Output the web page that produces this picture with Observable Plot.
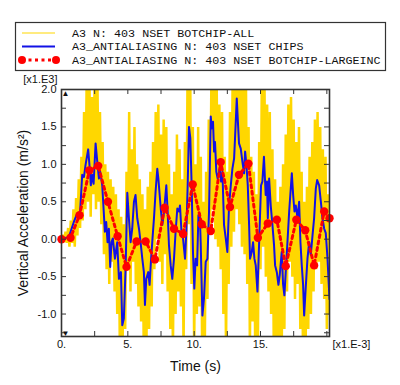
<!DOCTYPE html>
<html><head><meta charset="utf-8">
<script src="https://cdn.jsdelivr.net/npm/d3@7"></script>
<script src="https://cdn.jsdelivr.net/npm/@observablehq/plot@0.6"></script>
<style>
body{margin:0;background:#fff;}
#wrap{width:400px;height:385px;overflow:hidden;}
#legend{width:400px;height:72px;}
#chart svg{display:block;}
</style></head><body>
<div id="wrap"><div id="legend"></div><div id="chart"></div></div>
<script>
// ---- series labels
const seriesNames = [
  "A3 N: 403 NSET BOTCHIP-ALL",
  "A3_ANTIALIASING N: 403 NSET CHIPS",
  "A3_ANTIALIASING N: 403 NSET BOTCHIP-LARGEINC"
];
const seriesColors = ["#ffd700", "#1212e6", "#ff0000"];

// ---- yellow raw signal (sampled every 0.1 ms), values x1000 m/s^2
const yellowStep = 0.1;
const yellowV = [
  0, 0.06, -0.04, 0.1, -0.05, 0.15, -0.1, 0.25, -0.05, 0.4,
  -0.1, 0.55, 0.05, 0.8, 0.15, 1.1, 0.25, 1.7, 0.4, 2.2,
  0.5, 2.3, 0.3, 1.9, 0.6, 2.2, 0.4, 2.3, 0.5, 1.7,
  0.2, 1.3, -0.2, 1.0, -0.4, 0.9, -0.6, 0.8, -0.3, 0.7,
  -0.7, 0.6, -1.0, 0.4, -1.5, 0.3, -1.5, 0.2, -1.2, 0.9,
  -0.4, 1.7, -0.7, 1.2, -0.3, 1.5, -0.6, 1.0, -0.9, 0.8,
  -1.1, 0.6, -1.5, 0.4, -1.5, 0.7, -1.2, 0.9, -0.9, 1.3,
  -0.4, 1.7, 0.0, 1.8, -0.3, 1.4, -0.6, 1.6, -0.2, 1.5,
  -0.7, 1.0, -1.2, 0.6, -1.5, 0.9, -1.0, 1.4, -0.7, 1.2,
  -0.9, 0.8, -1.5, 1.3, -0.4, 2.2, 0.2, 2.3, -0.6, 1.5,
  -1.5, 1.0, -1.0, 1.5, -0.9, 1.1, -1.5, 0.5, -1.5, 0.9,
  -0.8, 1.6, 0.1, 2.2, 0.4, 2.3, 0.0, 2.0, -0.1, 1.8,
  -0.4, 1.7, -1.0, 1.1, -1.5, 0.9, -0.6, 1.7, -0.1, 2.2,
  0.1, 2.3, 0.4, 2.3, 0.2, 2.2, -0.1, 2.1, -0.2, 2.2,
  -0.6, 1.5, -1.5, 1.1, -1.1, 0.9, -1.5, 0.6, -1.5, 1.3,
  -0.4, 2.2, -0.1, 2.1, -0.5, 1.8, -0.7, 1.7, -1.0, 1.2,
  -1.5, 0.8, -1.4, 0.5, -1.5, 0.7, -1.5, 1.0, -1.2, 1.4,
  -0.7, 1.8, -0.3, 1.9, -0.5, 1.6, -0.8, 1.3, -0.6, 1.5,
  -1.2, 0.9, -1.5, 0.5, -1.5, 0.7, -1.2, 1.1, -1.0, 1.3,
  -0.7, 1.6, -0.4, 1.7, -0.3, 1.5, -0.6, 1.2, -0.8, 1.1,
  -1.2, 0.6, -1.0
];

// ---- blue antialiased CHIPS series
const blueT = [0,0.55,0.93,1.18,1.4,1.56,1.69,1.81,2.01,2.14,2.21,2.31,2.42,2.57,2.72,2.82,2.92,3.07,3.17,3.27,3.37,3.47,3.57,3.67,3.77,3.87,4.03,4.2,4.33,4.48,4.58,4.7,4.83,4.96,5.08,5.21,5.33,5.46,5.58,5.71,5.84,5.96,6.09,6.21,6.29,6.39,6.54,6.64,6.74,6.84,6.97,7.09,7.22,7.3,7.4,7.5,7.6,7.73,7.9,8.0,8.1,8.23,8.35,8.48,8.6,8.73,8.86,8.93,9.06,9.16,9.31,9.41,9.51,9.61,9.71,9.81,9.91,10.01,10.11,10.22,10.32,10.42,10.49,10.62,10.74,10.87,11.0,11.12,11.25,11.32,11.42,11.5,11.57,11.67,11.77,11.93,12.03,12.13,12.25,12.38,12.5,12.63,12.76,12.88,13.01,13.08,13.21,13.31,13.38,13.51,13.64,13.76,13.84,13.94,14.04,14.14,14.21,14.34,14.44,14.54,14.64,14.77,14.84,14.94,15.04,15.14,15.26,15.39,15.49,15.55,15.65,15.77,15.9,16.02,16.1,16.23,16.35,16.45,16.6,16.7,16.8,16.96,17.16,17.36,17.46,17.56,17.66,17.79,17.91,18.01,18.11,18.21,18.29,18.42,18.54,18.67,18.79,18.92,19.04,19.17,19.27,19.42,19.55,19.67,19.8,19.92,20.05,20.2];
const blueV = [0,0.03,0.23,0.34,0.36,0.86,0.83,0.99,1.2,0.92,0.72,0.86,0.74,1.28,0.99,0.81,0.9,0.72,0.41,0.1,0.23,-0.04,0.14,-0.37,-0.04,0.01,-0.26,-0.04,-0.53,-0.44,-1.15,-1.06,-0.39,0.62,0.28,-0.04,0.14,0.5,0.59,0.28,0.14,-0.04,-0.26,-0.44,-0.88,-0.53,-0.44,-0.61,-0.3,-0.04,0.28,0.63,0.94,0.81,0.59,0.37,0.19,0.37,0.72,0.37,-0.08,-0.35,-0.53,-0.26,0.1,0.41,0.37,0.45,0.05,0.01,-0.26,0.1,0.72,1.5,1.35,0.72,-0.17,-0.66,-0.26,-0.35,0.32,0.34,-0.04,-1.02,-0.79,-0.3,-0.26,0.37,1.64,1.48,1.57,1.17,1.3,0.9,0.81,0.94,0.77,0.9,0.19,0.01,-0.17,0.45,0.72,0.94,1.08,1.35,1.88,1.52,1.28,1.21,1.03,0.88,1.17,0.99,0.72,0.19,-0.26,-0.17,-0.04,-0.26,-0.35,-0.7,-0.35,0.19,0.72,0.77,1.1,0.59,0.77,0.28,0.81,0.45,0.19,-0.08,-0.35,-0.44,-0.61,-0.48,-0.17,-0.6,-0.75,-0.26,0.37,0.88,0.59,0.37,0.45,0.28,0.5,-0.04,-0.35,-0.61,-1.02,-0.61,-0.26,-0.04,-0.21,0.05,0.28,0.68,0.79,0.72,0.5,0.28,0.14,0.08,-0.26,-0.8];

// ---- red antialiased BOTCHIP-LARGEINC series (large increments)
const redT = [0,0.68,1.36,2.1,2.77,3.5,4.23,4.9,5.66,6.34,7.04,7.77,8.48,9.16,9.89,10.57,11.25,12.0,12.7,13.38,14.09,14.8,15.55,16.23,16.9,17.7,18.37,19.04,19.8,20.2];
const redV = [0,0.02,0.32,0.92,0.98,0.5,0.04,-0.37,-0.03,-0.03,-0.27,0.42,0.14,0.07,0.73,0.2,0.11,1.03,0.43,0.86,1.01,0.02,0.21,0.26,-0.36,0.26,0.12,-0.35,0.37,0.28];

// ---- axes
const xDomain = [0, 20.2];
const yDomain = [-1.3, 2.0];
const xTickVals = [0, 2.5, 5, 7.5, 10, 12.5, 15, 17.5, 20];
const xLabelVals = [0, 5, 10, 15];
const xLabelText = ["0.", "5.", "10.", "15."];
const yTickVals = [-1.25,-1,-0.75,-0.5,-0.25,0,0.25,0.5,0.75,1,1.25,1.5,1.75,2];
const yLabelVals = [-1, -0.5, 0, 0.5, 1, 1.5, 2];
const yLabelText = ["-1.0", "-0.5", "0.0", "0.5", "1.0", "1.5", "2.0"];
const xTitle = "Time (s)";
const yTitle = "Vertical Acceleration (m/s²)";
const xExp = "[x1.E-3]";
const yExp = "[x1.E3]";

// ---- legend
(function(){
  const svg = d3.select("#legend").append("svg").attr("width", 400).attr("height", 72);
  svg.append("rect").attr("x", 15.5).attr("y", 22.5).attr("width", 370).attr("height", 48)
    .attr("fill", "#fff").attr("stroke", "#333").attr("stroke-width", 1.2);
  const rows = [33, 46.5, 60];
  svg.append("line").attr("x1", 22).attr("x2", 55).attr("y1", rows[0]).attr("y2", rows[0])
    .attr("stroke", seriesColors[0]).attr("stroke-width", 1.2);
  svg.append("line").attr("x1", 22).attr("x2", 55).attr("y1", rows[1]).attr("y2", rows[1])
    .attr("stroke", seriesColors[1]).attr("stroke-width", 2);
  svg.append("line").attr("x1", 22).attr("x2", 56).attr("y1", rows[2]).attr("y2", rows[2])
    .attr("stroke", seriesColors[2]).attr("stroke-width", 3).attr("stroke-dasharray", "3,3.5");
  [22, 56].forEach(x => svg.append("circle").attr("cx", x).attr("cy", rows[2]).attr("r", 4).attr("fill", seriesColors[2]));
  seriesNames.forEach((s, i) => svg.append("text").attr("x", 72).attr("y", rows[i] + 3.5)
    .attr("font-family", "Liberation Mono, DejaVu Sans Mono, monospace").attr("font-size", 11.7)
    .attr("fill", "#111").text(s));
})();

// ---- chart
const W = 400, H = 313, mL = 61, mR = 71, mT = 17, mB = 49;
const innerW = W - mL - mR, innerH = H - mT - mB;
const yellowData = yellowV.map((v, i) => ({t: i * yellowStep, v}));
const blueData = blueT.map((t, i) => ({t, v: blueV[i]}));
const redData = redT.map((t, i) => ({t, v: redV[i]}));
const axisColor = "#333";

const chart = Plot.plot({
  width: W, height: H,
  marginLeft: mL, marginRight: mR, marginTop: mT, marginBottom: mB,
  style: {fontFamily: "Liberation Sans, Arial, sans-serif", fontSize: "11px", background: "#fff", color: "#111"},
  x: {domain: xDomain},
  y: {domain: yDomain},
  marks: [
    Plot.line(yellowData, {x: "t", y: "v", stroke: seriesColors[0], strokeWidth: 2.5, strokeLinejoin: "miter", clip: true}),
    Plot.line(blueData, {x: "t", y: "v", stroke: seriesColors[1], strokeWidth: 2, clip: true}),
    Plot.line(redData, {x: "t", y: "v", stroke: seriesColors[2], strokeWidth: 3, strokeDasharray: "3,3.5", clip: true}),
    Plot.dot(redData, {x: "t", y: "v", fill: seriesColors[2], r: 4.2}),
    Plot.tickY(yTickVals, {y: d => d, insetRight: innerW - 5, stroke: axisColor}),
    Plot.tickY(yTickVals, {y: d => d, insetLeft: innerW - 5, stroke: axisColor}),
    Plot.tickX(xTickVals, {x: d => d, insetTop: innerH - 5, stroke: axisColor}),
    Plot.tickX(xTickVals, {x: d => d, insetBottom: innerH - 5, stroke: axisColor}),
    Plot.frame({stroke: axisColor, strokeWidth: 1.6}),
    Plot.axisY(yLabelVals, {tickSize: 0, tickPadding: 5, tickFormat: d => yLabelText[yLabelVals.indexOf(d)], label: null, fontSize: 11}),
    Plot.axisX(xLabelVals, {tickSize: 0, tickPadding: 4, tickFormat: d => xLabelText[xLabelVals.indexOf(d)], label: null, fontSize: 11}),
    Plot.text([yExp], {frameAnchor: "top-left", dx: -4, dy: -7, textAnchor: "end", lineAnchor: "bottom", fontSize: 11, fill: "#111"}),
    Plot.text([xExp], {frameAnchor: "bottom-right", dx: 3, dy: 4, textAnchor: "start", lineAnchor: "top", fontSize: 11, fill: "#111"}),
    Plot.text([xTitle], {frameAnchor: "bottom", dy: 34, lineAnchor: "bottom", fontSize: 14, fill: "#111"}),
    Plot.text([yTitle], {frameAnchor: "left", rotate: -90, dx: -38, textAnchor: "middle", lineAnchor: "middle", fontSize: 14, fill: "#111"}),
    Plot.text(["▲"], {frameAnchor: "top-left", dy: 1, lineAnchor: "top", fontSize: 8, fill: "#111"}),
    Plot.text(["▼"], {frameAnchor: "bottom-left", dy: -1, lineAnchor: "bottom", fontSize: 8, fill: "#111"})
  ]
});
document.getElementById("chart").appendChild(chart);
</script>
</body></html>
